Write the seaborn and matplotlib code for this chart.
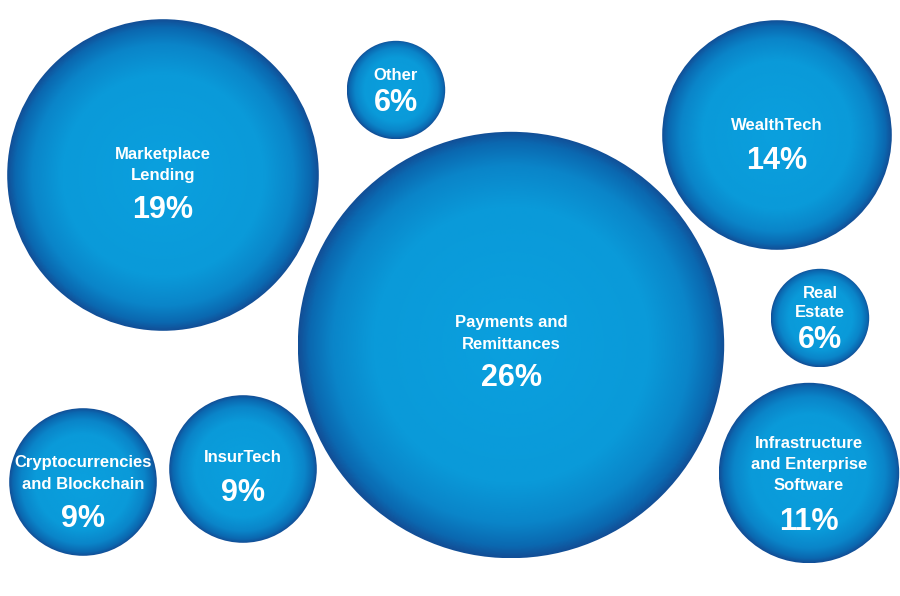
import numpy as np
import pandas as pd
import seaborn as sns
import matplotlib.pyplot as plt
from matplotlib.patches import Circle
from matplotlib.colors import LinearSegmentedColormap

# Data
labels = ["Marketplace\nLending", "Other", "WealthTech", "Payments and\nRemittances",
          "Real\nEstate", "Infrastructure\nand Enterprise\nSoftware",
          "Cryptocurrencies\nand Blockchain", "InsurTech"]
shares = [19, 6, 14, 26, 6, 11, 9, 9]

# Layout (pixel coords): bubble centre, first label line y, percentage y
centre_x = [163, 396, 777, 511, 820, 809, 83, 243]
centre_y = [175, 90, 135, 345, 318, 473, 482, 469]
label_y = [154, 76, 126, 323, 293, 443, 463, 458]
pct_y = [210, 103, 161, 378, 340, 522, 519, 493]

df = pd.DataFrame({"label": labels, "share": shares, "x": centre_x, "y": centre_y})
df["r"] = df["share"] * 8.2

sns.set_theme(style="white")
plt.rcParams["font.family"] = ["Liberation Sans", "DejaVu Sans"]

cmap = LinearSegmentedColormap.from_list(
    "bubble",
    [(0.0, "#0aa0de"), (0.65, "#0a9ad9"), (0.84, "#0a85c9"),
     (0.95, "#0b68b0"), (1.0, "#124f97")])

fig = plt.figure(figsize=(9, 5.96), dpi=100)
ax = fig.add_axes([0, 0, 1, 1])
ax.axis("off")

n = 400
g = np.linspace(-1, 1, n)
gx, gy = np.meshgrid(g, g)
dist = np.clip(np.sqrt(gx ** 2 + gy ** 2), 0, 1)

for i, row in df.iterrows():
    cx, cy, r = row["x"], row["y"], row["r"]
    circ = Circle((cx, cy), r, facecolor="none", edgecolor="none")
    ax.add_patch(circ)
    im = ax.imshow(dist, cmap=cmap, vmin=0, vmax=1,
                   extent=(cx - r, cx + r, cy + r, cy - r),
                   interpolation="bilinear", zorder=1)
    im.set_clip_path(circ)

    lines = row["label"].split("\n")
    step = 19.5 if row["r"] < 60 else 21.5
    for j, line in enumerate(lines):
        ax.text(cx, label_y[i] + step * j, line, color="white", fontsize=12,
                fontweight="bold", ha="center", va="center", zorder=3)
    ax.text(cx, pct_y[i], f"{row['share']}%", color="white", fontsize=22,
            fontweight="bold", ha="center", va="center", zorder=3)

ax.set_xlim(0, 900)
ax.set_ylim(596, 0)
ax.set_aspect("auto")

plt.savefig("out.png", dpi=100)
